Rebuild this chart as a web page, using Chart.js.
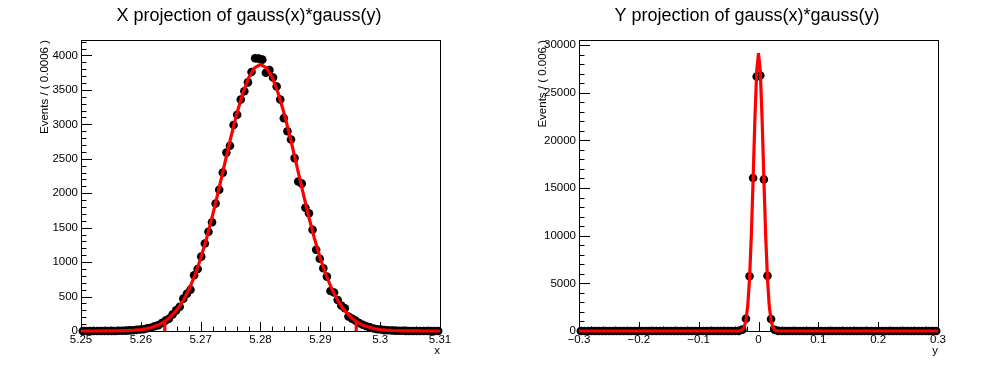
<!DOCTYPE html>
<html>
<head>
<meta charset="utf-8">
<script src="https://cdn.jsdelivr.net/npm/chart.js@4"></script>
<style>
  html, body { margin: 0; padding: 0; background: #fff; }
  #wrap { position: relative; width: 996px; height: 372px; }
  canvas { position: absolute; top: 0; }
</style>
</head>
<body>
<div id="wrap">
  <canvas id="projX" width="498" height="372" style="left:0"></canvas>
  <canvas id="projY" width="498" height="372" style="left:498px"></canvas>
</div>
<script>
const FONT = '"Liberation Sans", Arial, Helvetica, sans-serif';

// binning of the two projections
const xBinMin = 5.25, xBinWidth = 0.0006;
const yBinMin = -0.3, yBinWidth = 0.006;

// events per bin, X projection (100 bins)
const xCounts = [
  0, 0, 0, 0, 0, 0, 1, 0, 2, 1, 3, 4,
  6, 9, 11, 17, 22, 26, 40, 48, 68, 84, 115, 150,
  178, 240, 300, 352, 470, 540, 600, 810, 900, 1080, 1270, 1440,
  1580, 1850, 2050, 2300, 2590, 2690, 2990, 3140, 3360, 3480, 3610, 3760,
  3960, 3955, 3940, 3750, 3790, 3680, 3550, 3360, 3090, 2900, 2780, 2510,
  2170, 2140, 1790, 1710, 1470, 1180, 1050, 910, 790, 580, 560, 450,
  370, 330, 210, 180, 150, 115, 90, 70, 52, 36, 25, 22,
  13, 11, 8, 5, 3, 3, 2, 1, 1, 0, 1, 0,
  0, 0, 0, 0
];

// events per bin, Y projection (100 bins)
const yCounts = [
  0, 0, 0, 0, 0, 0, 0, 0, 0, 0, 0, 0, 0, 0, 0, 0, 0, 0, 0, 0,
  0, 0, 0, 0, 0, 0, 0, 0, 0, 0, 0, 0, 0, 0, 0, 0, 0, 0, 0, 0,
  0, 0, 0, 0, 8, 140, 1280, 5750, 16050, 26700,
  26800, 15900, 5800, 1260, 120, 10, 0, 0, 0, 0,
  0, 0, 0, 0, 0, 0, 0, 0, 0, 0, 0, 0, 0, 0, 0, 0, 0, 0, 0, 0,
  0, 0, 0, 0, 0, 0, 0, 0, 0, 0, 0, 0, 0, 0, 0, 0, 0, 0, 0, 0
];

// fitted pdf curve, X projection (sampled every 0.001 from 5.25)
const xCurveStart = 5.25, xCurveStep = 0.001;
const xCurveVals = [
  0, 0, 0.1, 0.3, 0.6, 1.1, 2.2, 4, 7, 12.5,
  21, 35, 57, 90, 139, 208, 303, 430, 595, 802,
  1054, 1349, 1683, 2047, 2424, 2797, 3144, 3442, 3674, 3820,
  3870,
  3820, 3674, 3442, 3144, 2797, 2424, 2047, 1683, 1349, 1054,
  802, 595, 430, 303, 208, 139, 90, 57, 35, 21,
  12.5, 7, 4, 2.2, 1.1, 0.6, 0.3, 0.1, 0, 0
];
// places where the drawn curve drops to zero
const xCurveDrops = [5.264, 5.296];

// fitted pdf curve, Y projection
const yCurveX = [-0.3, -0.036, -0.033, -0.03, -0.027, -0.024, -0.021, -0.018, -0.015, -0.012, -0.009, -0.006, -0.003,
  0, 0.003, 0.006, 0.009, 0.012, 0.015, 0.018, 0.021, 0.024, 0.027, 0.03, 0.033, 0.036, 0.3];
const yCurveY = [0, 1, 9, 36, 129, 402, 1096, 2616, 5465, 9990, 15950, 22290, 27250,
  29140, 27250, 22290, 15950, 9990, 5465, 2616, 1096, 402, 129, 36, 9, 1, 0];

// axis ticks
const xLeftTicks = [5.25, 5.26, 5.27, 5.28, 5.29, 5.30, 5.31];
const yLeftTicks = [0, 500, 1000, 1500, 2000, 2500, 3000, 3500, 4000];
const xRightTicks = [-0.3, -0.2, -0.1, 0, 0.1, 0.2, 0.3];
const yRightTicks = [0, 5000, 10000, 15000, 20000, 25000, 30000];

function minorTicks(major, min, max) {
  const step = (major[1] - major[0]) / 5;
  const out = [];
  let v = major[0] - Math.floor((major[0] - min) / step + 1e-9) * step;
  for (; v <= max + 1e-9; v += step) out.push(v);
  return out;
}

const frameTicks = {
  id: 'frameTicks',
  beforeDatasetsDraw(chart) {
    const { ctx, chartArea: a, scales: { x, y } } = chart;
    ctx.save();
    ctx.strokeStyle = '#000';
    ctx.lineWidth = 1;
    ctx.strokeRect(Math.round(a.left) + 0.5, Math.round(a.top) + 0.5,
      Math.round(a.right - a.left), Math.round(a.bottom - a.top));
    ctx.beginPath();
    const majX = x.options.majorList, majY = y.options.majorList;
    minorTicks(majX, x.min, x.max).forEach(v => {
      const px = Math.round(x.getPixelForValue(v)) + 0.5;
      const major = majX.some(m => Math.abs(m - v) < 1e-9);
      ctx.moveTo(px, a.bottom);
      ctx.lineTo(px, a.bottom - (major ? 9 : 4.5));
    });
    minorTicks(majY, y.min, y.max).forEach(v => {
      const py = Math.round(y.getPixelForValue(v)) + 0.5;
      const major = majY.some(m => Math.abs(m - v) < 1e-9);
      ctx.moveTo(a.left, py);
      ctx.lineTo(a.left + (major ? 11 : 5.5), py);
    });
    ctx.stroke();
    ctx.restore();
  }
};

const errorBars = {
  id: 'errorBars',
  beforeDatasetsDraw(chart) {
    const { ctx, scales: { x, y } } = chart;
    const ds = chart.data.datasets[1];
    const hw = ds.binWidth / 2;
    ctx.save();
    ctx.strokeStyle = '#000';
    ctx.lineWidth = 1;
    ctx.beginPath();
    ds.data.forEach(p => {
      const e = Math.sqrt(p.y);
      const py = y.getPixelForValue(p.y);
      ctx.moveTo(x.getPixelForValue(p.x - hw), py);
      ctx.lineTo(x.getPixelForValue(p.x + hw), py);
      if (e > 0) {
        const px = x.getPixelForValue(p.x);
        ctx.moveTo(px, y.getPixelForValue(p.y - e));
        ctx.lineTo(px, y.getPixelForValue(p.y + e));
      }
    });
    ctx.stroke();
    ctx.restore();
  }
};

function makeChart(id, o) {
  const points = o.counts.map((c, i) => ({ x: o.binMin + (i + 0.5) * o.binWidth, y: c }));
  return new Chart(document.getElementById(id), {
    type: 'scatter',
    data: {
      datasets: [
        {
          label: 'pdf', data: o.curve, showLine: true, borderColor: '#ff0000',
          borderWidth: 3.2, pointRadius: 0, tension: 0, order: 0, clip: false
        },
        {
          label: 'data', data: points, binWidth: o.binWidth, pointRadius: 4.3,
          pointBackgroundColor: '#000', pointBorderWidth: 0, order: 1, clip: false
        }
      ]
    },
    options: {
      responsive: false,
      animation: false,
      events: [],
      layout: { padding: 0 },
      plugins: {
        legend: { display: false },
        tooltip: { enabled: false },
        title: {
          display: true, text: o.title, color: '#000',
          font: { family: FONT, size: 18, weight: 'normal' },
          padding: { top: 5.5, bottom: 12.9 }
        }
      },
      scales: {
        x: {
          type: 'linear', min: o.xMin, max: o.xMax, majorList: o.xTicks,
          afterBuildTicks: s => { s.ticks = o.xTicks.map(v => ({ value: v })); },
          afterFit: s => { s.height = 41; },
          grid: { display: false, drawTicks: false },
          border: { display: false },
          ticks: {
            color: '#000', font: { family: FONT, size: 11.5 }, padding: 1.5,
            maxRotation: 0, autoSkip: false, callback: o.xFmt
          },
          title: {
            display: true, text: o.xTitle, align: 'end', color: '#000',
            font: { family: FONT, size: 11.5 }, padding: { top: 0, bottom: 14.5 }
          }
        },
        y: {
          type: 'linear', min: 0, max: o.yMax, majorList: o.yTicks,
          afterBuildTicks: s => { s.ticks = o.yTicks.map(v => ({ value: v })); },
          afterFit: s => { s.width = 81; },
          grid: { display: false, drawTicks: false },
          border: { display: false },
          ticks: {
            color: '#000', font: { family: FONT, size: 11.5 }, padding: 3,
            autoSkip: false, callback: v => String(v)
          },
          title: {
            display: true, text: o.yTitle, align: 'end', color: '#000',
            font: { family: FONT, size: 11.5 }, padding: { top: 37.5, bottom: 0 }
          }
        },
        // empty right margin of the pad
        margin: {
          type: 'linear', position: 'right', min: 0, max: 1,
          afterFit: s => { s.width = 58; },
          grid: { display: false, drawTicks: false },
          border: { display: false },
          ticks: { display: false }
        }
      }
    },
    plugins: [frameTicks, errorBars]
  });
}

// build X curve points, inserting the drops
const xCurve = [];
xCurveVals.forEach((v, j) => {
  const xv = xCurveStart + j * xCurveStep;
  xCurve.push({ x: xv, y: v });
  if (xCurveDrops.some(d => Math.abs(d - xv) < 1e-9)) {
    xCurve.push({ x: xv, y: 0 });
    xCurve.push({ x: xv, y: v });
  }
});
const yCurve = yCurveX.map((xv, i) => ({ x: xv, y: yCurveY[i] }));

makeChart('projX', {
  title: 'X projection of gauss(x)*gauss(y)',
  counts: xCounts, binMin: xBinMin, binWidth: xBinWidth, curve: xCurve,
  xMin: 5.25, xMax: 5.31, yMax: 4225,
  xTicks: xLeftTicks, yTicks: yLeftTicks,
  xFmt: v => String(+v.toFixed(2)),
  xTitle: 'x', yTitle: 'Events / ( 0.0006 )'
});

makeChart('projY', {
  title: 'Y projection of gauss(x)*gauss(y)',
  counts: yCounts, binMin: yBinMin, binWidth: yBinWidth, curve: yCurve,
  xMin: -0.3, xMax: 0.3, yMax: 30525,
  xTicks: xRightTicks, yTicks: yRightTicks,
  xFmt: v => { const s = String(+v.toFixed(1)); return s.replace('-', '\u2212'); },
  xTitle: 'y', yTitle: 'Events / ( 0.006 )'
});
</script>
</body>
</html>
